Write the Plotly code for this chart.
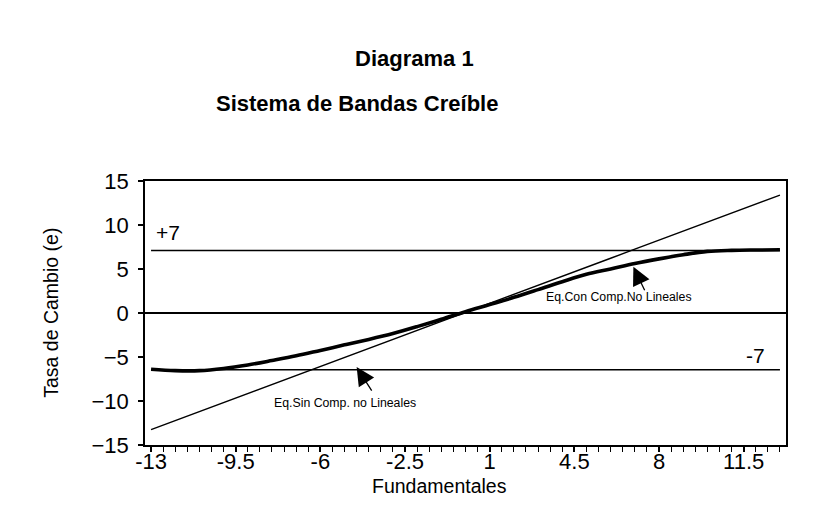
import plotly.graph_objects as go

# Datos (Fundamentales vs Tasa de Cambio)
fundamentales = [-13, -12, -11, -10, -9, -8, -7, -6, -5, -4, -3, -2, -1, 0,
                 1, 2, 3, 4, 5, 6, 7, 8, 9, 10, 11, 12, 13]

# Eq. sin componentes no lineales (recta)
eq_sin_comp = [-13.25, -12.23, -11.2, -10.18, -9.15, -8.13, -7.1, -6.08, -5.05,
               -4.03, -3.0, -1.98, -0.95, 0.07, 1.1, 2.12, 3.15, 4.17, 5.2,
               6.22, 7.25, 8.27, 9.3, 10.32, 11.35, 12.37, 13.4]

# Eq. con componentes no lineales (curva S)
eq_con_comp = [-6.4, -6.55, -6.55, -6.3, -5.9, -5.4, -4.87, -4.25, -3.62,
               -3.0, -2.33, -1.55, -0.72, 0.15, 0.96, 1.78, 2.66, 3.56, 4.4,
               5.0, 5.62, 6.15, 6.62, 7.0, 7.12, 7.16, 7.18]

# Bandas
banda_sup = [7.1] * len(fundamentales)
banda_inf = [-6.45] * len(fundamentales)

x_ticks = [-13, -9.5, -6, -2.5, 1, 4.5, 8, 11.5]

FONT = "Liberation Sans, Arial, sans-serif"

fig = go.Figure()

fig.add_trace(go.Scatter(x=fundamentales, y=banda_sup, mode="lines",
                         line=dict(color="black", width=1.5), hoverinfo="skip"))
fig.add_trace(go.Scatter(x=fundamentales, y=banda_inf, mode="lines",
                         line=dict(color="black", width=1.5), hoverinfo="skip"))
fig.add_trace(go.Scatter(x=fundamentales, y=eq_sin_comp, mode="lines",
                         name="Eq.Sin Comp. no Lineales",
                         line=dict(color="black", width=1.4)))
fig.add_trace(go.Scatter(x=fundamentales, y=eq_con_comp, mode="lines",
                         name="Eq.Con Comp.No Lineales", line_shape="spline",
                         line=dict(color="black", width=3.6)))


def texto(text, x, y, size, paper=False, **kw):
    d = dict(text=text, x=x, y=y, showarrow=False, font=dict(size=size),
             xanchor="center", yanchor="middle")
    if paper:
        d.update(xref="paper", yref="paper")
    d.update(kw)
    return d


def flecha(x, y, ax, ay):
    return dict(text="", x=x, y=y, ax=ax, ay=ay, showarrow=True, arrowhead=2,
                arrowsize=2.8, arrowwidth=1.3, arrowcolor="black")


# Textos y flechas
annotations = [
    texto("<b>Diagrama 1</b>", 0.421, 1.465, 22, paper=True),
    texto("<b>Sistema de Bandas Creíble</b>", 0.331, 1.295, 22, paper=True),
    texto("Fundamentales", 0.459, -0.155, 19.5, paper=True),
    texto("Tasa de Cambio (e)", -0.147, 0.5, 19.5, paper=True, textangle=-90),
    texto("+7", -12.3, 9.1, 21),
    texto("-7", 12.0, -4.8, 21),
    texto("Eq.Con Comp.No Lineales", 6.35, 1.85, 12.3),
    texto("Eq.Sin Comp. no Lineales", -5.0, -10.2, 12.3),
    flecha(6.94, 5.26, 12, 25),
    flecha(-4.5, -6.15, 16, 25),
]

# la pagina tiene 8px de margen en el body
fig.update_layout(
    width=829, height=523,
    margin=dict(l=137, r=51, t=173, b=86),
    plot_bgcolor="white", paper_bgcolor="white",
    showlegend=False,
    font=dict(family=FONT, color="black"),
    annotations=annotations,
    xaxis=dict(
        range=[-13.25, 13.25], tickmode="array", tickvals=x_ticks,
        ticktext=[f"{v:g}" for v in x_ticks],
        ticks="outside", ticklen=5, tickwidth=1.5, tickcolor="black",
        minor=dict(tickmode="linear", tick0=-13, dtick=0.5, ticks="outside",
                   ticklen=5, tickwidth=1.3, tickcolor="black"),
        showline=True, linecolor="black", linewidth=1.5, mirror=True,
        showgrid=False, zeroline=False, tickfont=dict(size=22),
        ticklabelstandoff=-9,
    ),
    # eje solapado para que las marcas crucen el eje
    xaxis2=dict(
        range=[-13.25, 13.25], overlaying="x", anchor="y", side="bottom",
        tick0=-13, dtick=0.5, ticks="inside", ticklen=5, tickwidth=1.3,
        tickcolor="black", showticklabels=False, showgrid=False,
        zeroline=False, showline=False,
    ),
    yaxis=dict(
        range=[-15, 15], dtick=5, ticks="outside", ticklen=5, tickwidth=1.5,
        tickcolor="black", showline=True, linecolor="black", linewidth=1.5,
        mirror=True, showgrid=False, zeroline=True, zerolinecolor="black",
        zerolinewidth=2, tickfont=dict(size=22), ticklabelstandoff=5,
    ),
    yaxis2=dict(
        range=[-15, 15], overlaying="y", anchor="x", side="left",
        dtick=2.5, ticks="inside", ticklen=5, tickwidth=1.3, tickcolor="black",
        showticklabels=False, showgrid=False, zeroline=False, showline=False,
    ),
)

fig.write_html("out.html")
